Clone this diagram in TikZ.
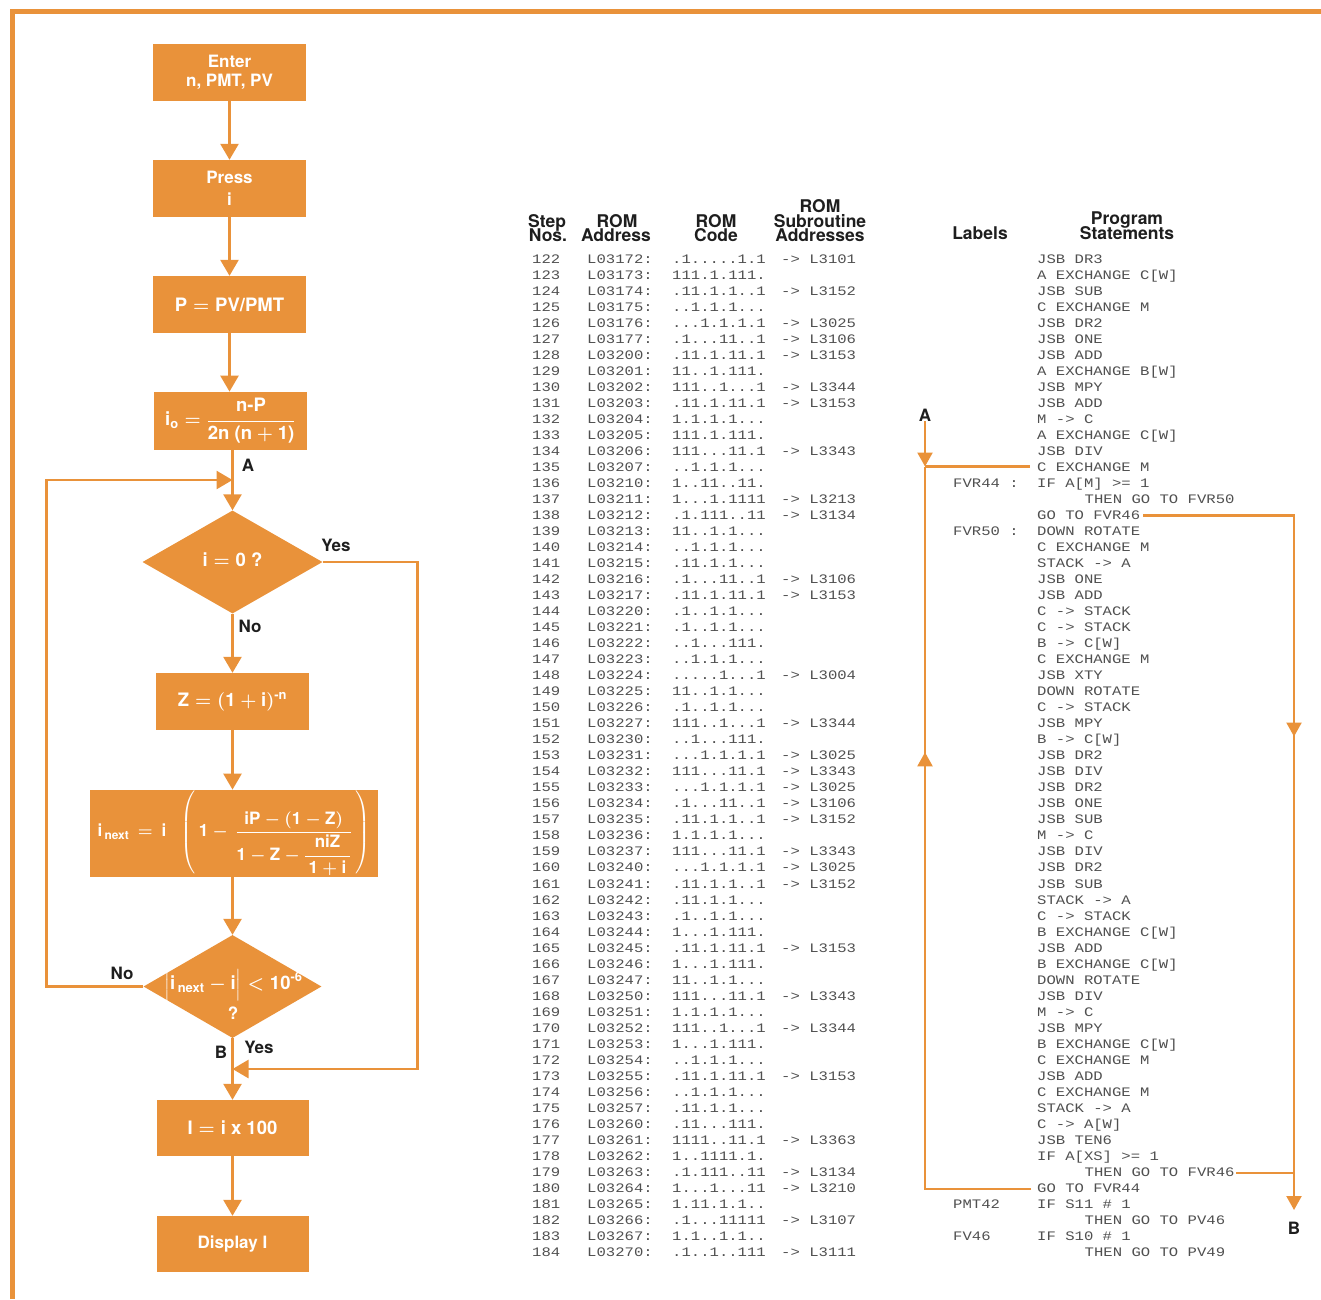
\RequirePackage{fix-cm}
\documentclass[tikz,border=0pt]{standalone}
\usepackage{amsmath}
\usepackage{fontspec}
\setmainfont{TeX Gyre Heros}
\newfontfamily\monof[FakeStretch=1.2]{Liberation Mono}
\usetikzlibrary{arrows.meta,shapes.geometric,decorations.markings}
\definecolor{hporange}{RGB}{233,146,58}
\definecolor{tabgray}{RGB}{80,80,80}
\definecolor{hdark}{RGB}{30,30,30}
\tikzset{
  flowbox/.style={fill=hporange, draw=none, text=white, inner sep=0pt, align=center,
    font=\bfseries\boldmath\fontsize{17}{19}\selectfont},
  fdia/.style={diamond, fill=hporange, draw=none, inner sep=0pt},
  ftext/.style={text=white, inner sep=0pt, align=center, font=\bfseries\boldmath\fontsize{17}{19}\selectfont},
  big/.style={font=\bfseries\boldmath\fontsize{18.5}{20}\selectfont},
  flow/.style={color=hporange, line width=2.6pt, -{Triangle[width=18pt,length=16pt]}},
  tline/.style={color=hporange, line width=2.2pt},
  tarrow/.style={tline, -{Triangle[width=15pt,length=14pt]}},
  midarrow/.style={postaction={decorate}, decoration={markings,
    mark=at position #1 with {\arrow{Triangle[width=15pt,length=14pt]}}}},
  mono/.style={anchor=west, inner sep=0pt, text height=8.6pt, text depth=0pt, text=tabgray,
    font=\monof\fontsize{13}{13}\selectfont},
  hdr/.style={anchor=base, inner sep=0pt, text=hdark, font=\bfseries\fontsize{17.5}{17}\selectfont},
  lbl/.style={inner sep=0pt, text=hdark, font=\bfseries\fontsize{17}{17}\selectfont},
}
\newcommand\indt{\hspace*{47.5pt}}
\newcommand\trow[6]{%
  \node[mono] (n#1) at (532,{259.3+16.01*(#1-122)}) {#1};
  \node[mono] (ad#1) at (587,{259.3+16.01*(#1-122)}) {#2};
  \node[mono] (cd#1) at (672,{259.3+16.01*(#1-122)}) {#3};
  \if\relax\detokenize{#4}\relax\else\node[mono] (sb#1) at (781,{259.3+16.01*(#1-122)}) {#4};\fi
  \if\relax\detokenize{#5}\relax\else\node[mono] (lb#1) at (953,{259.3+16.01*(#1-122)}) {#5};\fi
  \node[mono] (st#1) at (1037,{259.3+16.01*(#1-122)}) {#6};
}
\begin{document}
\begin{tikzpicture}[x=1pt,y=-1pt]
\useasboundingbox (0,0) rectangle (1321,1299);
% page border
\draw[color=hporange, line width=5pt] (12.5,1299) -- (12.5,11.5) -- (1321,11.5);

% ---------------- flowchart ----------------
\node[flowbox, minimum width=153pt, minimum height=57pt] (b1) at (229.5,72.5) {Enter\\n, PMT, PV};
\node[flowbox, minimum width=153pt, minimum height=57pt] (b2) at (229.5,188.5) {Press\\[3pt]i};
\node[flowbox, big, minimum width=153pt, minimum height=57pt] (b3) at (229.5,304.5)
  {$\text{P} = \text{PV/PMT}$};
\node[flowbox, big, minimum width=153pt, minimum height=58pt] (b4) at (230.3,420.8)
  {$\text{i}_{\text{o}} = \dfrac{\text{n-P}}{\text{2n (n} + \text{1)}}$};
\node[fdia, minimum width=180pt, minimum height=103pt] (d1) at (232.5,562) {};
\node[ftext, big] (d1t) at (232.5,560) {$\text{i} = \text{0 ?}$};
\node[flowbox, big, minimum width=153pt, minimum height=57pt] (b5) at (232.5,701.5)
  {$\text{Z} = (\text{1} + \text{i})^{\text{-n}}$};
\node[flowbox, minimum width=288pt, minimum height=87pt, font=\bfseries\boldmath\fontsize{17}{19}\selectfont] (b6) at (234,833.3)
  {$\text{i}_{\,\text{next}}\,=\,\text{i}\;\;\left(\,\text{1} - \,\dfrac{\text{iP} - (\text{1} - \text{Z})}{\text{1} - \text{Z} - \dfrac{\,\text{niZ}\,}{\,\text{1} + \text{i}\,}}\,\right)$};
\node[fdia, minimum width=178pt, minimum height=103pt] (d2) at (232.5,986.5) {};
\node[ftext, big] (d2t) at (233.5,985) {$\Bigl|\text{i}_{\,\text{next}} - \text{i}\Bigr| < \text{10}^{\text{-6}}$};
\node[ftext] (d2q) at (233,1013) {?};
\node[flowbox, big, minimum width=152pt, minimum height=56pt] (b7) at (232.5,1128) {$\text{I} = \text{i x 100}$};
\node[flowbox, minimum width=152pt, minimum height=56pt] (b8) at (232.5,1244) {Display I};

\coordinate (jA) at (232.5,480);
\coordinate (jB) at (232.5,1069);
\draw[flow] (b1.south) -- (b2.north);
\draw[flow] (b2.south) -- (b3.north);
\draw[flow] (b3.south) -- (b3.south |- b4.north);
\draw[flow] (b4.south -| d1.north) -- (d1.north);
\draw[flow] (d1.south) -- (b5.north);
\draw[flow] (b5.south) -- (b5.south |- b6.north);
\draw[flow] (b6.south -| d2.north) -- (d2.north);
\draw[flow] (d2.south) -- (b7.north);
\draw[flow] (b7.south) -- (b8.north);
\draw[flow] (d2.west) -- ++(-97,0) |- (jA);
\draw[flow] (d1.east) -- ++(95,0) |- (jB);

\node[lbl] (lA) at (248,465) {A};
\node[lbl] (lyes1) at (336,545) {Yes};
\node[lbl] (lno1) at (250,626) {No};
\node[lbl] (lno2) at (122,973) {No};
\node[lbl] (lB) at (221,1052) {B};
\node[lbl] (lyes2) at (259,1047) {Yes};

% ---------------- table headers ----------------
\node[hdr] (h1) at (547,227) {Step};
\node[hdr] (h2) at (548,241.5) {Nos.};
\node[hdr] (h3) at (617,227) {ROM};
\node[hdr] (h4) at (616,241.5) {Address};
\node[hdr] (h5) at (716,227) {ROM};
\node[hdr] (h6) at (716,241.5) {Code};
\node[hdr] (h7) at (820,212.5) {ROM};
\node[hdr] (h8) at (820,227) {Subroutine};
\node[hdr] (h9) at (820,241.5) {Addresses};
\node[hdr] (h10) at (980,239.3) {Labels};
\node[hdr] (h11) at (1127,224.5) {Program};
\node[hdr] (h12) at (1127,239.3) {Statements};

% ---------------- table rows ----------------
\trow{122}{L03172:}{.1.....1.1}{-> L3101}{}{JSB DR3}
\trow{123}{L03173:}{111.1.111.}{}{}{A EXCHANGE C[W]}
\trow{124}{L03174:}{.11.1.1..1}{-> L3152}{}{JSB SUB}
\trow{125}{L03175:}{..1.1.1...}{}{}{C EXCHANGE M}
\trow{126}{L03176:}{...1.1.1.1}{-> L3025}{}{JSB DR2}
\trow{127}{L03177:}{.1...11..1}{-> L3106}{}{JSB ONE}
\trow{128}{L03200:}{.11.1.11.1}{-> L3153}{}{JSB ADD}
\trow{129}{L03201:}{11..1.111.}{}{}{A EXCHANGE B[W]}
\trow{130}{L03202:}{111..1...1}{-> L3344}{}{JSB MPY}
\trow{131}{L03203:}{.11.1.11.1}{-> L3153}{}{JSB ADD}
\trow{132}{L03204:}{1.1.1.1...}{}{}{M -> C}
\trow{133}{L03205:}{111.1.111.}{}{}{A EXCHANGE C[W]}
\trow{134}{L03206:}{111...11.1}{-> L3343}{}{JSB DIV}
\trow{135}{L03207:}{..1.1.1...}{}{}{C EXCHANGE M}
\trow{136}{L03210:}{1..11..11.}{}{FVR44 :}{IF A[M] >= 1}
\trow{137}{L03211:}{1...1.1111}{-> L3213}{}{\indt THEN GO TO FVR50}
\trow{138}{L03212:}{.1.111..11}{-> L3134}{}{GO TO FVR46}
\trow{139}{L03213:}{11..1.1...}{}{FVR50 :}{DOWN ROTATE}
\trow{140}{L03214:}{..1.1.1...}{}{}{C EXCHANGE M}
\trow{141}{L03215:}{.11.1.1...}{}{}{STACK -> A}
\trow{142}{L03216:}{.1...11..1}{-> L3106}{}{JSB ONE}
\trow{143}{L03217:}{.11.1.11.1}{-> L3153}{}{JSB ADD}
\trow{144}{L03220:}{.1..1.1...}{}{}{C -> STACK}
\trow{145}{L03221:}{.1..1.1...}{}{}{C -> STACK}
\trow{146}{L03222:}{..1...111.}{}{}{B -> C[W]}
\trow{147}{L03223:}{..1.1.1...}{}{}{C EXCHANGE M}
\trow{148}{L03224:}{.....1...1}{-> L3004}{}{JSB XTY}
\trow{149}{L03225:}{11..1.1...}{}{}{DOWN ROTATE}
\trow{150}{L03226:}{.1..1.1...}{}{}{C -> STACK}
\trow{151}{L03227:}{111..1...1}{-> L3344}{}{JSB MPY}
\trow{152}{L03230:}{..1...111.}{}{}{B -> C[W]}
\trow{153}{L03231:}{...1.1.1.1}{-> L3025}{}{JSB DR2}
\trow{154}{L03232:}{111...11.1}{-> L3343}{}{JSB DIV}
\trow{155}{L03233:}{...1.1.1.1}{-> L3025}{}{JSB DR2}
\trow{156}{L03234:}{.1...11..1}{-> L3106}{}{JSB ONE}
\trow{157}{L03235:}{.11.1.1..1}{-> L3152}{}{JSB SUB}
\trow{158}{L03236:}{1.1.1.1...}{}{}{M -> C}
\trow{159}{L03237:}{111...11.1}{-> L3343}{}{JSB DIV}
\trow{160}{L03240:}{...1.1.1.1}{-> L3025}{}{JSB DR2}
\trow{161}{L03241:}{.11.1.1..1}{-> L3152}{}{JSB SUB}
\trow{162}{L03242:}{.11.1.1...}{}{}{STACK -> A}
\trow{163}{L03243:}{.1..1.1...}{}{}{C -> STACK}
\trow{164}{L03244:}{1...1.111.}{}{}{B EXCHANGE C[W]}
\trow{165}{L03245:}{.11.1.11.1}{-> L3153}{}{JSB ADD}
\trow{166}{L03246:}{1...1.111.}{}{}{B EXCHANGE C[W]}
\trow{167}{L03247:}{11..1.1...}{}{}{DOWN ROTATE}
\trow{168}{L03250:}{111...11.1}{-> L3343}{}{JSB DIV}
\trow{169}{L03251:}{1.1.1.1...}{}{}{M -> C}
\trow{170}{L03252:}{111..1...1}{-> L3344}{}{JSB MPY}
\trow{171}{L03253:}{1...1.111.}{}{}{B EXCHANGE C[W]}
\trow{172}{L03254:}{..1.1.1...}{}{}{C EXCHANGE M}
\trow{173}{L03255:}{.11.1.11.1}{-> L3153}{}{JSB ADD}
\trow{174}{L03256:}{..1.1.1...}{}{}{C EXCHANGE M}
\trow{175}{L03257:}{.11.1.1...}{}{}{STACK -> A}
\trow{176}{L03260:}{.11...111.}{}{}{C -> A[W]}
\trow{177}{L03261:}{1111..11.1}{-> L3363}{}{JSB TEN6}
\trow{178}{L03262:}{1..1111.1.}{}{}{IF A[XS] >= 1}
\trow{179}{L03263:}{.1.111..11}{-> L3134}{}{\indt THEN GO TO FVR46}
\trow{180}{L03264:}{1...1...11}{-> L3210}{}{GO TO FVR44}
\trow{181}{L03265:}{1.11.1.1..}{}{PMT42}{IF S11 \# 1}
\trow{182}{L03266:}{.1...11111}{-> L3107}{}{\indt THEN GO TO PV46}
\trow{183}{L03267:}{1.1..1.1..}{}{FV46}{IF S10 \# 1}
\trow{184}{L03270:}{.1..1..111}{-> L3111}{}{\indt THEN GO TO PV49}

% ---------------- loop lines beside the listing ----------------
\node[lbl] (tA) at (925,415) {A};
\node[lbl] (tB) at (1294,1228) {B};
\coordinate (tjA) at (925,466.5);
\coordinate (g44) at (1031,1188.9);
\coordinate (g46) at (1143,515.5);
\coordinate (t46) at (1236,1172.9);
\coordinate (tjB) at (1294,1210);
\draw[tarrow] (tA.south) -- (tjA);
\draw[tline, shorten >=7pt] (tjA) -- (tjA -| st135.west);
\draw[tline, midarrow=0.655] (g44) -| (tjA);
\draw[tarrow, midarrow=0.44] (g46) -| (tjB);
\draw[tline] (t46) -- (t46 -| tjB);
\end{tikzpicture}
\end{document}
